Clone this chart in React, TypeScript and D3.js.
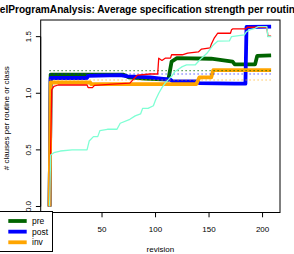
import React from "react";
import * as d3 from "d3";

// ---- data (revision, average clauses) ----
const preSeries: [number, number][] = [
  [1, 0], [2, 1.165], [70, 1.165], [75, 1.14], [90, 1.13], [112, 1.12], [115, 1.28], [120, 1.31],
  [152, 1.305], [172, 1.28], [174, 1.255], [193, 1.255], [195, 1.33], [208, 1.335],
];
const postSeries: [number, number][] = [
  [1, 0], [2, 1.135], [36, 1.135], [37, 1.153], [67, 1.16], [74, 1.15], [95, 1.14], [105, 1.13],
  [114, 1.12], [116, 1.105], [138, 1.105], [141, 1.09], [174, 1.085], [184, 1.085], [185, 1.585], [208, 1.588],
];
const invSeries: [number, number][] = [
  [1, 0], [2, 1.095], [39, 1.095], [40, 1.08], [138, 1.08], [141, 1.14], [152, 1.14], [154, 1.205], [208, 1.205],
];
const redSeries: [number, number][] = [
  [1, 0], [3, 1.03], [5, 1.06], [9, 1.073], [36, 1.073], [37, 1.05], [41, 1.05], [43, 1.07], [60, 1.08],
  [76, 1.09], [80, 1.13], [83, 1.16], [95, 1.17], [102, 1.17], [103, 1.31], [106, 1.29], [109, 1.31],
  [114, 1.31], [115, 1.34], [125, 1.34], [130, 1.355], [140, 1.365], [143, 1.39], [151, 1.4], [152, 1.43],
  [155, 1.49], [157, 1.515], [158, 1.53], [170, 1.53], [171, 1.56], [172, 1.568], [184, 1.568], [186, 1.583],
  [204, 1.583], [205, 1.505], [208, 1.505],
];
const aquaSeries: [number, number][] = [
  [1, 0], [2, 0.455], [5, 0.475], [11, 0.49], [22, 0.5], [36, 0.5], [38, 0.578], [42, 0.617], [46, 0.617],
  [48, 0.67], [55, 0.682], [64, 0.682], [67, 0.735], [76, 0.77], [81, 0.8], [86, 0.817], [88, 0.867],
  [93, 0.867], [98, 0.89], [100, 0.94], [103, 1.0], [106, 1.05], [109, 1.09], [112, 1.12], [115, 1.15],
  [118, 1.19], [121, 1.21], [125, 1.235], [129, 1.25], [137, 1.25], [140, 1.28], [143, 1.31], [148, 1.353],
  [151, 1.39], [154, 1.427], [158, 1.46], [169, 1.462], [171, 1.5], [183, 1.515], [185, 1.544], [188, 1.559],
  [193, 1.574], [196, 1.588], [204, 1.588], [205, 1.5], [208, 1.5],
];
const meanValues = [1.2, 1.17, 1.117];
const meanRange = [1, 208];

const xTicks = [50, 100, 150, 200];
const yTicks = [0, 0.5, 1.0, 1.5];
const xLim = [-7.3, 216.3];
const yLim = [-0.053, 1.647];
const legendLabels = ["pre", "post", "inv"];
const titleText = "ModelProgramAnalysis: Average specification strength per routine or class";
const xLabel = "revision";
const yLabel = "# clauses per routine or class";

const COLORS = { pre: "#006400", post: "#0000FF", inv: "#FFA500", red: "#FF0000", aqua: "#7FFFD4" };
const legendColors = [COLORS.pre, COLORS.post, COLORS.inv];
const meanColors = [COLORS.pre, COLORS.post, COLORS.inv];

const W = 294, H = 254;
const P = { left: 40.7, right: 280, top: 20, bottom: 212.5 };
const FONT = "'Liberation Sans', Arial, Helvetica, sans-serif";

export default function App() {
  const x = d3.scaleLinear().domain(xLim).range([P.left, P.right]);
  const y = d3.scaleLinear().domain(yLim).range([P.bottom, P.top]);
  const line = d3.line<[number, number]>().x((d) => x(d[0])).y((d) => y(d[1]));

  const thick = [
    { s: preSeries, c: COLORS.pre },
    { s: postSeries, c: COLORS.post },
    { s: invSeries, c: COLORS.inv },
  ];
  const thin = [
    { s: redSeries, c: COLORS.red },
    { s: aquaSeries, c: COLORS.aqua },
  ];

  return (
    <svg width={W} height={H} style={{ position: "absolute", left: 0, top: 0, display: "block", background: "#fff" }}
      fontFamily={FONT}>
      <defs>
        <clipPath id="plotclip">
          <rect x={P.left} y={P.top} width={P.right - P.left} height={P.bottom - P.top} />
        </clipPath>
      </defs>
      <text x={(P.left + P.right) / 2} y={13} textAnchor="middle" fontWeight="bold" fontSize={10.15}>{titleText}</text>

      <g clipPath="url(#plotclip)">
        {thick.map((t, i) => (
          <path key={"t" + i} d={line(t.s) || ""} fill="none" stroke={t.c} strokeWidth={3.8} strokeLinejoin="round" />
        ))}
        {meanValues.map((v, i) => (
          <line key={"m" + i} x1={x(meanRange[0])} x2={x(meanRange[1])} y1={y(v)} y2={y(v)}
            stroke={meanColors[i]} strokeWidth={1.2} strokeDasharray="1,3" />
        ))}
        {thin.map((t, i) => (
          <path key={"n" + i} d={line(t.s) || ""} fill="none" stroke={t.c} strokeWidth={1.3} strokeLinejoin="round" />
        ))}
      </g>

      <rect x={P.left} y={P.top} width={P.right - P.left} height={P.bottom - P.top} fill="none" stroke="#000" strokeWidth={1} />

      {/* x axis */}
      <line x1={x(xTicks[0])} x2={x(xTicks[xTicks.length - 1])} y1={P.bottom} y2={P.bottom} stroke="#000" />
      {xTicks.map((t) => (
        <g key={"xt" + t}>
          <line x1={x(t)} x2={x(t)} y1={P.bottom} y2={P.bottom + 4.8} stroke="#000" />
          <text x={x(t)} y={231.5} textAnchor="middle" fontSize={8}>{t}</text>
        </g>
      ))}
      <text x={(P.left + P.right) / 2} y={251.5} textAnchor="middle" fontSize={8}>{xLabel}</text>

      {/* y axis */}
      <line x1={P.left} x2={P.left} y1={y(yTicks[0])} y2={y(yTicks[yTicks.length - 1])} stroke="#000" />
      {yTicks.map((t) => (
        <g key={"yt" + t}>
          <line x1={P.left - 4.8} x2={P.left} y1={y(t)} y2={y(t)} stroke="#000" />
          <text transform={`translate(31,${y(t)}) rotate(-90)`} textAnchor="middle" fontSize={8}>{t.toFixed(1)}</text>
        </g>
      ))}
      <text transform={`translate(8.5,${(P.top + P.bottom) / 2 + 2}) rotate(-90)`} textAnchor="middle" fontSize={8}>{yLabel}</text>

      {/* legend */}
      <rect x={-1} y={211.5} width={53.5} height={40} fill="#fff" stroke="#000" strokeWidth={1} />
      {legendLabels.map((l, i) => {
        const cy = 221 + i * 10.65;
        return (
          <g key={"lg" + l}>
            <line x1={8.3} x2={26.7} y1={cy} y2={cy} stroke={legendColors[i]} strokeWidth={3.8} />
            <text x={32} y={cy + 3} fontSize={8.5}>{l}</text>
          </g>
        );
      })}
    </svg>
  );
}
